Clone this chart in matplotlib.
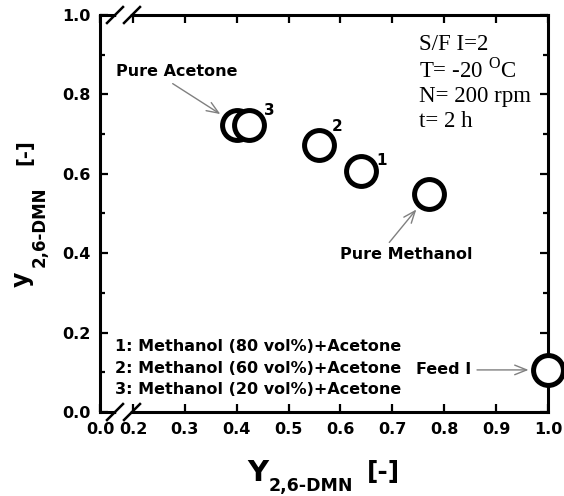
#Y-y diagram with broken x axis
import numpy as np
import matplotlib
matplotlib.use('Agg')
import matplotlib.pyplot as plt
from matplotlib.scale import FuncScale

plt.rcParams['mathtext.fontset'] = 'custom'
plt.rcParams['mathtext.rm'] = 'Liberation Serif'

# data
Y_feed = [0.400, 0.423, 0.559, 0.640, 0.770, 1.000]
y_raff = [0.724, 0.724, 0.673, 0.606, 0.548, 0.106]
point_names = ['Pure Acetone', '3', '2', '1', 'Pure Methanol', 'Feed I']

x_ticks = [0.0, 0.2, 0.3, 0.4, 0.5, 0.6, 0.7, 0.8, 0.9, 1.0]
x_ticklabels = ['0.0', '0.2', '0.3', '0.4', '0.5', '0.6', '0.7', '0.8', '0.9', '1.0']
y_ticks = [0.0, 0.2, 0.4, 0.6, 0.8, 1.0]
y_ticklabels = ['0.0', '0.2', '0.4', '0.6', '0.8', '1.0']

legend_lines = ['1: Methanol (80 vol%)+Acetone',
                '2: Methanol (60 vol%)+Acetone',
                '3: Methanol (20 vol%)+Acetone']
cond_lines = ['S/F I=2', r'T= -20 $^{\mathrm{O}}$C', 'N= 200 rpm', 't= 2 h']

W, H = 564, 496


def fwd(x):
    x = np.asarray(x, dtype=float)
    return np.where(x >= 0.2, x, 0.2 - (0.2 - x) * 0.3175)


def inv(u):
    u = np.asarray(u, dtype=float)
    return np.where(u >= 0.2, u, 0.2 - (0.2 - u) / 0.3175)


def main():
    fig = plt.figure(figsize=(W / 100, H / 100), dpi=100)
    ax = fig.add_axes([100 / W, 1 - 412 / H, 448 / W, 397 / H])
    ax.set_xscale(FuncScale(ax.xaxis, (fwd, inv)))
    ax.set_xlim(0.0, 1.0)
    ax.set_ylim(0.0, 1.0)

    ax.plot(Y_feed, y_raff, 'o', ms=21.5, mew=3.6, mec='black', mfc='white',
            ls='none', clip_on=False, zorder=6)

    for s in ax.spines.values():
        s.set_linewidth(2.2)

    ax.set_xticks(x_ticks)
    ax.set_xticklabels(x_ticklabels)
    ax.set_yticks(y_ticks)
    ax.set_yticklabels(y_ticklabels)
    ax.set_yticks(np.arange(0.1, 1.0, 0.2), minor=True)
    ax.xaxis.set_minor_locator(matplotlib.ticker.NullLocator())
    ax.tick_params(which='major', direction='in', length=6, width=1.6,
                   top=True, right=True, labelsize=11.5, pad=7)
    ax.tick_params(which='minor', direction='in', length=3.5, width=1.6,
                   top=True, right=True)
    for lbl in ax.get_xticklabels() + ax.get_yticklabels():
        lbl.set_fontweight('bold')

    # break marks on bottom and top spines
    def fx(px):
        return (px - 100) / 448
    for yy in (0.0, 1.0):
        ax.plot([fx(119), fx(128)], [yy, yy], color='white', lw=4,
                transform=ax.transAxes, clip_on=False, zorder=7)
        for cx in (115, 132):
            ax.plot([fx(cx - 8), fx(cx + 8)], [yy - 8 / 397, yy + 8 / 397],
                    color='black', lw=1.8, transform=ax.transAxes,
                    clip_on=False, zorder=8)

    arrow = dict(arrowstyle='->,head_length=0.75,head_width=0.3',
                 color='#808080', lw=1.0)
    # Pure Acetone
    ax.annotate(point_names[0], (Y_feed[0], y_raff[0]), xytext=(-43, 38.5),
                textcoords='offset points', ha='center', va='center',
                fontsize=11.5, fontweight='bold',
                arrowprops=dict(arrow, relpos=(0.4, 0.0), shrinkA=3, shrinkB=14))
    # Pure Methanol
    ax.annotate(point_names[4], (Y_feed[4], y_raff[4]), xytext=(-16, -43.5),
                textcoords='offset points', ha='center', va='center',
                fontsize=11.5, fontweight='bold',
                arrowprops=dict(arrow, relpos=(0.34, 1.0), shrinkA=2, shrinkB=14))
    # Feed I
    ax.annotate(point_names[5], (Y_feed[5], y_raff[5]), xytext=(-75, 0),
                textcoords='offset points', ha='center', va='center',
                fontsize=11.5, fontweight='bold',
                arrowprops=dict(arrow, relpos=(1.0, 0.5), shrinkA=2, shrinkB=14))
    # numbers 3, 2, 1
    offs = {1: (15, 10), 2: (12.6, 13), 3: (15, 8)}
    for i, off in offs.items():
        ax.annotate(point_names[i], (Y_feed[i], y_raff[i]), xytext=off,
                    textcoords='offset points', ha='center', va='center',
                    fontsize=11, fontweight='bold')

    for t, yy in zip(legend_lines, [351, 373, 394]):
        ax.text(fx(115), (412 - yy) / 397, t, transform=ax.transAxes,
                fontsize=11.5, fontweight='bold', va='baseline', ha='left')
    for t, yy in zip(cond_lines, [50, 77, 102, 127]):
        ax.text(fx(419), (412 - yy) / 397, t, transform=ax.transAxes,
                fontsize=16.5, family='Liberation Serif', va='baseline', ha='left')

    # axis titles
    def ft(px, py, s, size, rot=0):
        fig.text(px / W, 1 - py / H, s, fontsize=size, fontweight='bold',
                 ha='left', va='baseline', rotation=rot, rotation_mode='anchor')
    ft(247, 481, 'Y', 21)
    ft(269, 491, '2,6-DMN', 12.5)
    ft(367, 479, '[-]', 18)
    ft(29, 287, 'y', 17, 90)
    ft(45, 267, '2,6-DMN', 12, 90)
    ft(30, 165, '[-]', 14, 90)

    fig.savefig('out.png', dpi=100)


main()
